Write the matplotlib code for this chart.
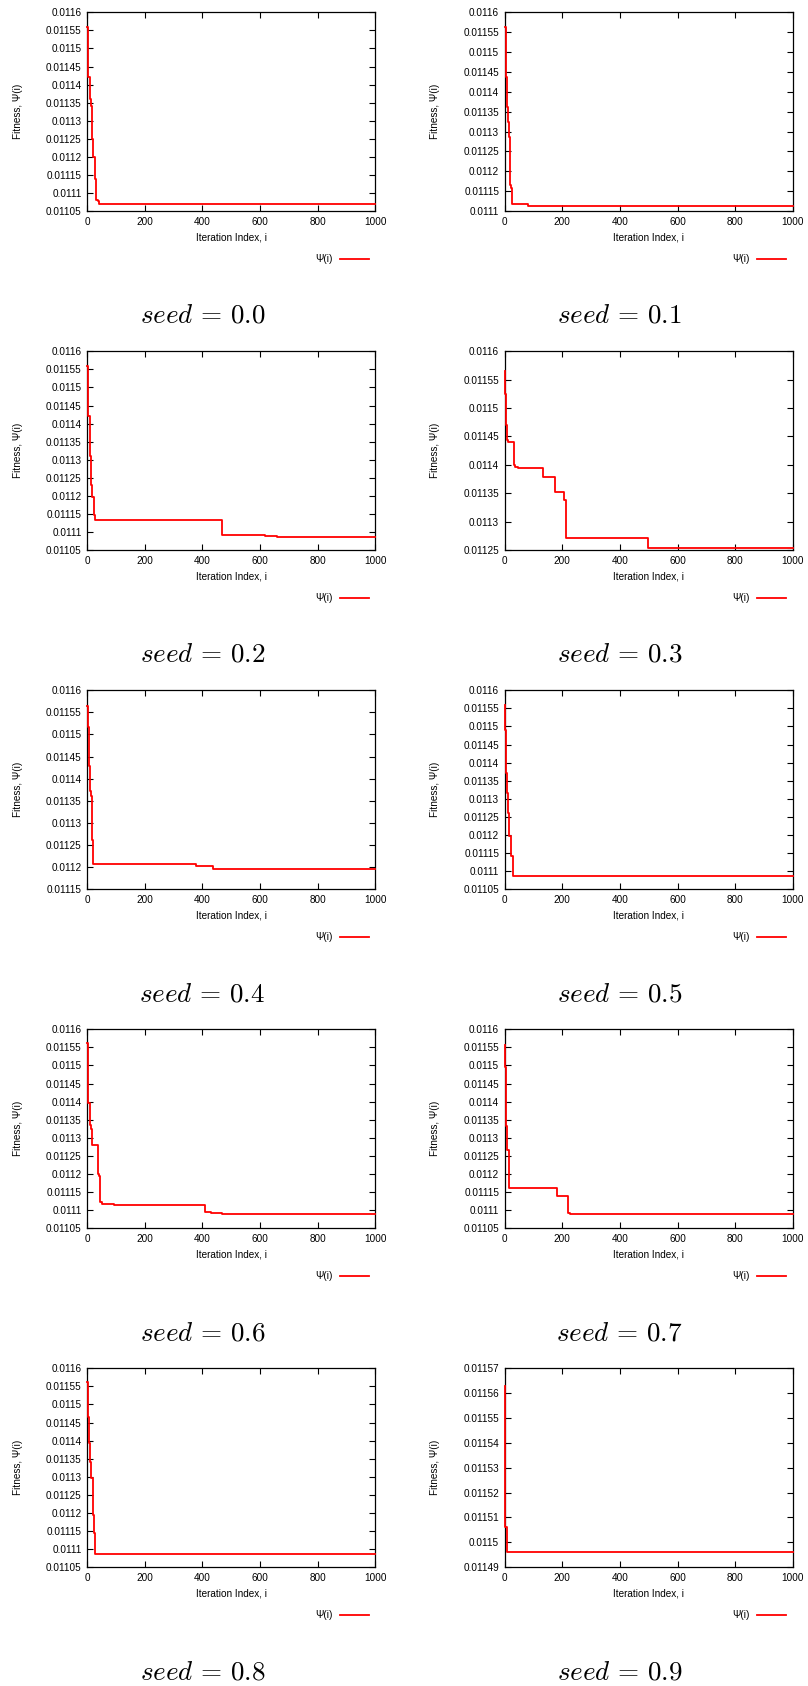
import numpy as np
import matplotlib.pyplot as plt

plt.rcParams['font.family'] = ['Liberation Sans', 'DejaVu Sans']
plt.rcParams['mathtext.fontset'] = 'cm'

# best fitness per run: iteration where the value changes, and the new value
iter_00 = [0, 2, 4, 8, 12, 16, 20, 26, 30, 38, 42, 1000]
fit_00 = [0.01156, 0.01150, 0.01142, 0.01136, 0.01134, 0.01125, 0.01120,
          0.01114, 0.01108, 0.011077, 0.01107, 0.01107]

iter_01 = [0, 3, 5, 9, 12, 15, 17, 22, 25, 81, 1000]
fit_01 = [0.011564, 0.011514, 0.011438, 0.011363, 0.011325, 0.011287,
          0.011165, 0.011157, 0.011117, 0.011112, 0.011112]

iter_02 = [0, 2, 4, 8, 14, 18, 22, 26, 469, 618, 657, 1000]
fit_02 = [0.011558, 0.011494, 0.01142, 0.011309, 0.01123, 0.011198,
          0.011147, 0.011133, 0.011092, 0.011089, 0.011087, 0.011087]

iter_03 = [0, 2, 4, 9, 12, 32, 36, 45, 134, 174, 206, 213, 496, 1000]
fit_03 = [0.011565, 0.011524, 0.01147, 0.011444, 0.011441, 0.0114,
          0.011397, 0.011394, 0.011379, 0.011352, 0.011338, 0.011272,
          0.011254, 0.011254]

iter_04 = [0, 2, 5, 8, 12, 15, 18, 20, 379, 437, 1000]
fit_04 = [0.011564, 0.011518, 0.011428, 0.011371, 0.01136, 0.011277,
          0.011262, 0.011207, 0.011203, 0.011195, 0.011195]

iter_05 = [0, 2, 4, 7, 12, 15, 21, 30, 1000]
fit_05 = [0.01156, 0.011491, 0.011371, 0.011316, 0.01126, 0.011196,
          0.011141, 0.011087, 0.011087]

iter_06 = [0, 2, 4, 8, 12, 16, 38, 42, 45, 50, 92, 408, 431, 468, 1000]
fit_06 = [0.011561, 0.011488, 0.011396, 0.011334, 0.011323, 0.011279,
          0.011199, 0.011194, 0.011121, 0.011116, 0.011114, 0.011095,
          0.011093, 0.011089, 0.011089]

iter_07 = [0, 2, 4, 6, 9, 15, 181, 220, 227, 1000]
fit_07 = [0.011557, 0.011497, 0.011424, 0.011332, 0.011266, 0.01116,
          0.011139, 0.011091, 0.011089, 0.011089]

iter_08 = [0, 2, 3, 5, 8, 12, 21, 23, 26, 1000]
fit_08 = [0.011563, 0.011531, 0.011466, 0.011393, 0.011342, 0.011296,
          0.011195, 0.011144, 0.011087, 0.011087]

iter_09 = [0, 1, 7, 1000]
fit_09 = [0.011563, 0.011506, 0.011496, 0.011496]

seed_labels = ['0.0', '0.1', '0.2', '0.3', '0.4', '0.5', '0.6', '0.7', '0.8', '0.9']
all_iters = [iter_00, iter_01, iter_02, iter_03, iter_04,
             iter_05, iter_06, iter_07, iter_08, iter_09]
all_fits = [fit_00, fit_01, fit_02, fit_03, fit_04,
            fit_05, fit_06, fit_07, fit_08, fit_09]
y_low = [0.01105, 0.0111, 0.01105, 0.01125, 0.01115,
         0.01105, 0.01105, 0.01105, 0.01105, 0.01149]
y_high = [0.0116, 0.0116, 0.0116, 0.0116, 0.0116,
          0.0116, 0.0116, 0.0116, 0.0116, 0.01157]
y_step = [0.00005] * 9 + [0.00001]

W, H = 808, 1686
fig = plt.figure(figsize=(W / 100, H / 100), dpi=100)

col_left = [87.3, 504.7]
caption_x = [202.5, 619.5]
ax_w, ax_h = 288.0, 198.8
fs = 7.2

for k in range(10):
    row, col = divmod(k, 2)
    top = 12.3 + 339.0 * row
    ax = fig.add_axes([col_left[col] / W, 1 - (top + ax_h) / H, ax_w / W, ax_h / H])

    ax.plot(all_iters[k], all_fits[k], drawstyle='steps-post', color='#ff0000',
            lw=1.3, label=r'Ψ(i)', clip_on=False, zorder=3)

    ax.set_xlim(0, 1000)
    ax.set_ylim(y_low[k], y_high[k])
    ax.set_xticks([0, 200, 400, 600, 800, 1000])
    yt = np.round(np.arange(y_low[k], y_high[k] + y_step[k] / 2, y_step[k]), 6)
    ax.set_yticks(yt)
    ax.set_yticklabels([f'{v:g}' for v in yt])
    ax.tick_params(direction='in', top=True, right=True, length=4, width=0.8,
                   labelsize=fs, pad=4, colors='black')
    for s in ax.spines.values():
        s.set_linewidth(0.9)

    ax.set_xlabel('Iteration Index, i', fontsize=fs)
    ax.set_ylabel('Fitness, Ψ(i)', fontsize=fs)
    ax.xaxis.set_label_coords(0.5, -0.11)
    ax.yaxis.set_label_coords(-0.225, 0.5)

    ax.legend(loc='center right', bbox_to_anchor=(0.977, -0.243), frameon=False,
              markerfirst=False, fontsize=fs, borderpad=0, borderaxespad=0,
              handlelength=2.9, handletextpad=0.7)

    fig.text(caption_x[col] / W, 1 - (322.7 + 339.2 * row) / H,
             r'$seed\,=\,' + seed_labels[k] + '$', fontsize=19.5,
             ha='center', va='baseline')

fig.savefig('out.png', dpi=100)
